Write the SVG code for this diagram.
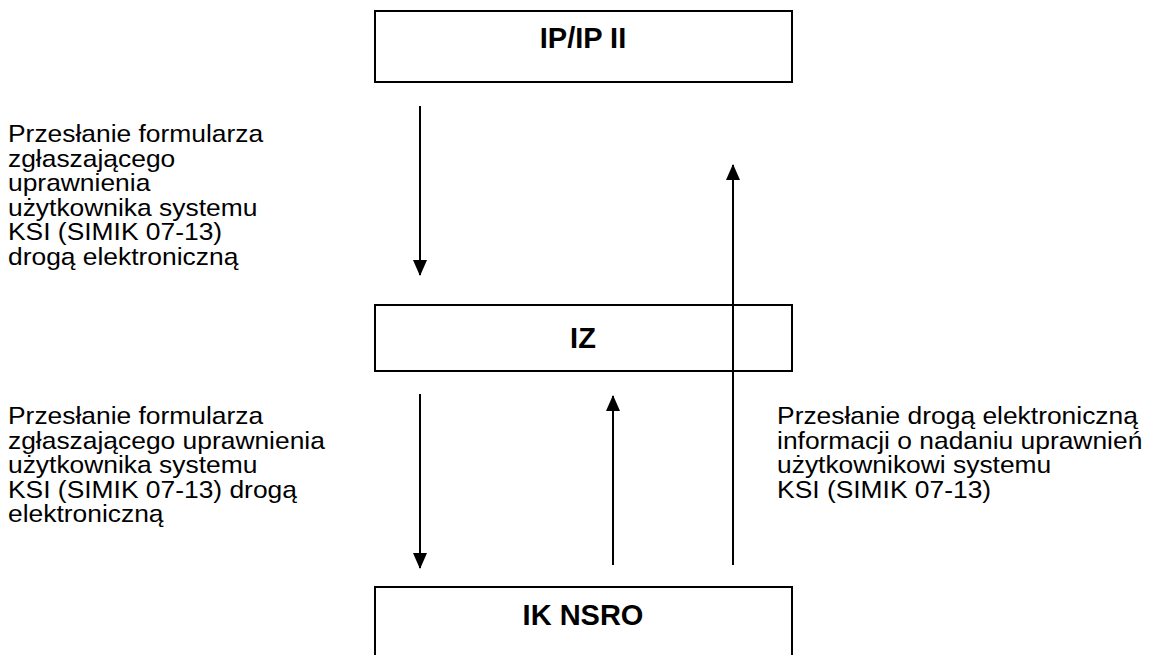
<svg xmlns="http://www.w3.org/2000/svg" width="1150" height="655" viewBox="0 0 1150 655">
<style>
.box{fill:#fff;stroke:#000;stroke-width:2}
.t{font-family:"Liberation Sans",Arial,sans-serif;font-size:24px;fill:#000}
.b{font-family:"Liberation Sans",Arial,sans-serif;font-size:29px;font-weight:bold;fill:#000;text-anchor:middle}
.c{stroke:#000;stroke-width:2;fill:none}
</style>
<defs>
<marker id="ah" viewBox="0 0 16 14" refX="15" refY="7" markerWidth="16" markerHeight="14" markerUnits="userSpaceOnUse" orient="auto">
<path d="M0,0 L16,7 L0,14 Z" fill="#000"/>
</marker>
</defs>
<g id="node-ip">
<rect class="box" x="375" y="11" width="417" height="71"/>
<text class="b" x="583" y="48">IP/IP II</text>
</g>
<g id="node-iz">
<rect class="box" x="375" y="305" width="417" height="66"/>
<text class="b" x="583" y="348">IZ</text>
</g>
<g id="node-ik">
<rect class="box" x="375" y="587" width="417" height="80"/>
<text class="b" x="583" y="625">IK NSRO</text>
</g>
<g id="connectors">
<line class="c" x1="420" y1="106" x2="420" y2="275" marker-end="url(#ah)"/>
<line class="c" x1="420" y1="394" x2="420" y2="568" marker-end="url(#ah)"/>
<line class="c" x1="613" y1="565" x2="613" y2="396" marker-end="url(#ah)"/>
<line class="c" x1="733" y1="565" x2="733" y2="165" marker-end="url(#ah)"/>
</g>
<g id="labels" transform="scale(1.1,1)">
<text class="t">
<tspan x="7.27" y="142">Przesłanie formularza</tspan>
<tspan x="7.27" y="167">zgłaszającego</tspan>
<tspan x="7.27" y="191">uprawnienia</tspan>
<tspan x="7.27" y="216">użytkownika systemu</tspan>
<tspan x="7.27" y="240">KSI (SIMIK 07-13)</tspan>
<tspan x="7.27" y="265">drogą elektroniczną</tspan>
</text>
<text class="t">
<tspan x="7.27" y="424">Przesłanie formularza</tspan>
<tspan x="7.27" y="449">zgłaszającego uprawnienia</tspan>
<tspan x="7.27" y="473">użytkownika systemu</tspan>
<tspan x="7.27" y="498">KSI (SIMIK 07-13) drogą</tspan>
<tspan x="7.27" y="522">elektroniczną</tspan>
</text>
<text class="t">
<tspan x="706.4" y="424">Przesłanie drogą elektroniczną</tspan>
<tspan x="706.4" y="449">informacji o nadaniu uprawnień</tspan>
<tspan x="706.4" y="473">użytkownikowi systemu</tspan>
<tspan x="706.4" y="498">KSI (SIMIK 07-13)</tspan>
</text>
</g>
</svg>
